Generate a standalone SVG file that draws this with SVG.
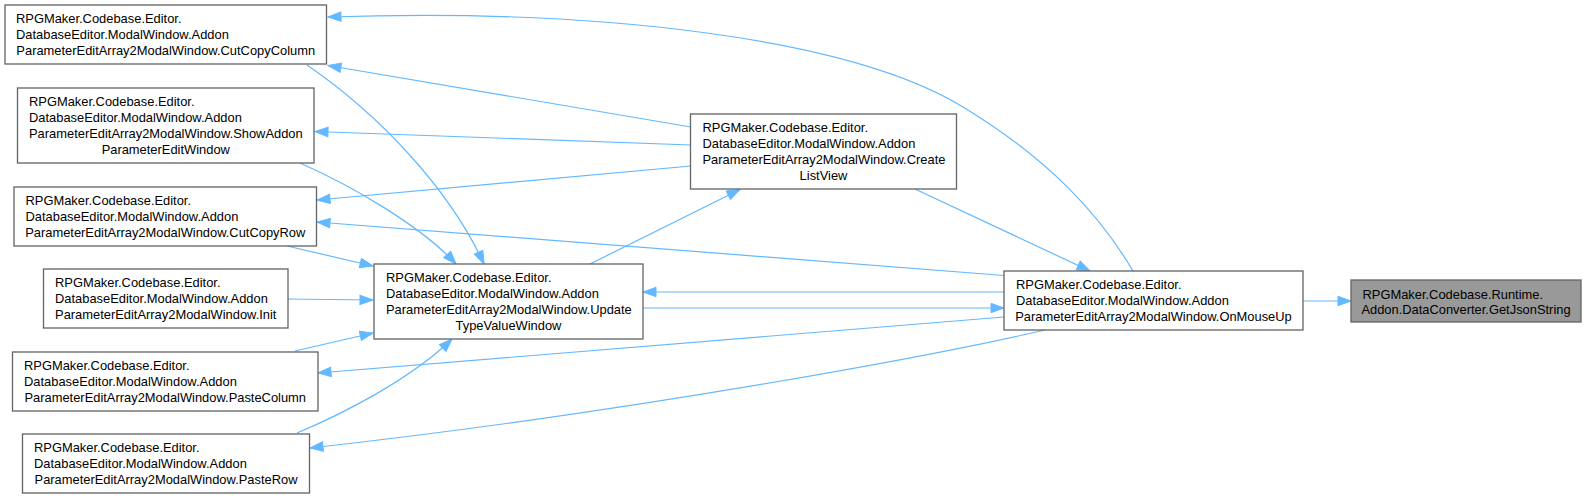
<svg xmlns="http://www.w3.org/2000/svg" width="1586" height="499" viewBox="0 0 1586 499">
<style>
.node rect{fill:#ffffff;stroke:#666666;stroke-width:1.33}
.node.hl rect{fill:#999999}
.node text{font-family:"Liberation Sans",Arial,Helvetica,sans-serif;font-size:12.9px;fill:#000000}
.node text.c{text-anchor:middle}
.edges path{fill:none;stroke:#63b8ff;stroke-width:1.2;marker-end:url(#ah)}
</style>
<defs>
<marker id="ah" markerUnits="userSpaceOnUse" markerWidth="14" markerHeight="10" refX="13" refY="4.7" orient="auto" overflow="visible">
<path d="M0,0 L13,4.7 L0,9.4 z" fill="#63b8ff" stroke="#63b8ff" stroke-width="1"/>
</marker>
</defs>
<rect width="1586" height="499" fill="#ffffff"/>
<g class="edges">
<path d="M1303,301 L1351,301"/>
<path d="M1133,271 C1100,215 1050,160 963,107 C850,38 600,8 328,17"/>
<path d="M691,127 L328,65.5"/>
<path d="M691,145 L315,131.5"/>
<path d="M691,166 L317,200"/>
<path d="M1004,275.5 L317,222"/>
<path d="M1004,292 L643,292"/>
<path d="M643,308 L1004,308"/>
<path d="M1004,317 L318,373"/>
<path d="M1045,330 C950,352 650,410 310,448"/>
<path d="M590,264 L740,189.5"/>
<path d="M915,189 L1090,271"/>
<path d="M307,65 C380,115 450,190 484,264"/>
<path d="M300,163 C350,185 420,225 456,264"/>
<path d="M287,246 L373,266"/>
<path d="M288,299 L373,300"/>
<path d="M295,351 L373,333"/>
<path d="M297,433 C340,415 410,380 452,339"/>
</g>
<g id="node-cutcopycolumn" class="node">
<rect x="5" y="5" width="321.5" height="59"/>
<text x="16" y="23">RPGMaker.Codebase.Editor.</text>
<text x="16" y="39">DatabaseEditor.ModalWindow.Addon</text>
<text class="c" x="165.75" y="55">ParameterEditArray2ModalWindow.CutCopyColumn</text>
</g>
<g id="node-showaddon" class="node">
<rect x="17.5" y="88" width="296.5" height="75"/>
<text x="29" y="106">RPGMaker.Codebase.Editor.</text>
<text x="29" y="122">DatabaseEditor.ModalWindow.Addon</text>
<text x="29" y="138">ParameterEditArray2ModalWindow.ShowAddon</text>
<text class="c" x="165.75" y="154">ParameterEditWindow</text>
</g>
<g id="node-cutcopyrow" class="node">
<rect x="14" y="187" width="302.5" height="59"/>
<text x="25.5" y="205">RPGMaker.Codebase.Editor.</text>
<text x="25.5" y="221">DatabaseEditor.ModalWindow.Addon</text>
<text class="c" x="165.25" y="237">ParameterEditArray2ModalWindow.CutCopyRow</text>
</g>
<g id="node-init" class="node">
<rect x="43.5" y="269" width="244.5" height="59"/>
<text x="55" y="287">RPGMaker.Codebase.Editor.</text>
<text x="55" y="303">DatabaseEditor.ModalWindow.Addon</text>
<text class="c" x="165.75" y="319">ParameterEditArray2ModalWindow.Init</text>
</g>
<g id="node-pastecolumn" class="node">
<rect x="12.5" y="352" width="305.5" height="59"/>
<text x="24" y="370">RPGMaker.Codebase.Editor.</text>
<text x="24" y="386">DatabaseEditor.ModalWindow.Addon</text>
<text class="c" x="165.25" y="402">ParameterEditArray2ModalWindow.PasteColumn</text>
</g>
<g id="node-pasterow" class="node">
<rect x="22.5" y="434" width="287" height="59"/>
<text x="34" y="452">RPGMaker.Codebase.Editor.</text>
<text x="34" y="468">DatabaseEditor.ModalWindow.Addon</text>
<text class="c" x="166" y="484">ParameterEditArray2ModalWindow.PasteRow</text>
</g>
<g id="node-updatetypevalue" class="node">
<rect x="374" y="264" width="269" height="75"/>
<text x="386" y="282">RPGMaker.Codebase.Editor.</text>
<text x="386" y="298">DatabaseEditor.ModalWindow.Addon</text>
<text x="386" y="314">ParameterEditArray2ModalWindow.Update</text>
<text class="c" x="508.5" y="330">TypeValueWindow</text>
</g>
<g id="node-createlistview" class="node">
<rect x="690.5" y="114" width="266" height="75"/>
<text x="702.5" y="132">RPGMaker.Codebase.Editor.</text>
<text x="702.5" y="148">DatabaseEditor.ModalWindow.Addon</text>
<text x="702.5" y="164">ParameterEditArray2ModalWindow.Create</text>
<text class="c" x="823.5" y="180">ListView</text>
</g>
<g id="node-onmouseup" class="node">
<rect x="1004" y="271" width="299" height="59"/>
<text x="1016" y="289">RPGMaker.Codebase.Editor.</text>
<text x="1016" y="305">DatabaseEditor.ModalWindow.Addon</text>
<text class="c" x="1153.5" y="321">ParameterEditArray2ModalWindow.OnMouseUp</text>
</g>
<g id="node-getjsonstring" class="node hl">
<rect x="1351" y="280" width="230" height="42"/>
<text x="1362.5" y="298.5">RPGMaker.Codebase.Runtime.</text>
<text class="c" x="1466" y="314">Addon.DataConverter.GetJsonString</text>
</g>
</svg>
